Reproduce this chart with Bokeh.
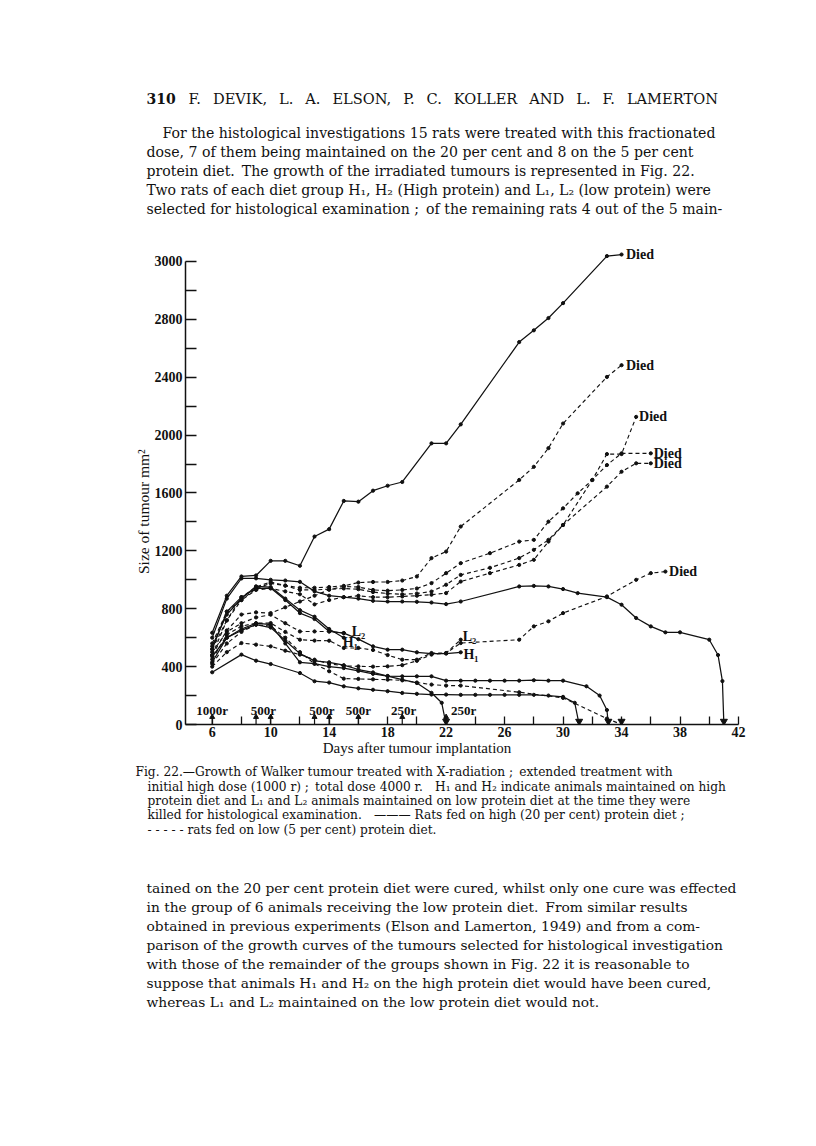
from bokeh.plotting import figure
from bokeh.layouts import column
from bokeh.models import Range1d, FixedTicker
from bokeh.core.properties import value
from bokeh.embed import file_html
from bokeh.resources import INLINE

# ---------------- data ----------------
# solid lines: rats on high (20 %) protein diet
a_days = [6, 7, 8, 9, 10, 11, 12, 13, 14, 15, 16, 17, 18, 19, 21, 22, 23, 27, 28, 29, 30, 33, 34]
a_vals = [634, 890, 1023, 1030, 1131, 1131, 1097, 1299, 1350, 1545, 1540, 1616, 1650, 1676, 1943, 1943, 2074, 2643, 2724, 2809, 2912, 3237, 3248]

s2_days = [6, 7, 8, 9, 10, 11, 12, 13, 14, 15, 16, 17, 18, 19, 20, 21, 22, 23, 27, 28, 29, 30, 31, 33, 34, 35, 36, 37, 38, 40, 40.6, 40.9, 41]
s2_vals = [600, 870, 1009, 1010, 1000, 995, 986, 920, 890, 880, 870, 855, 850, 850, 848, 843, 832, 850, 954, 958, 954, 936, 908, 880, 828, 736, 678, 637, 637, 586, 480, 300, 0]

s3_days = [6, 7, 8, 9, 10, 11, 12, 13, 14, 15, 16, 17, 18, 19, 20, 21, 22, 23]
s3_vals = [520, 780, 880, 940, 943, 860, 770, 729, 643, 632, 590, 540, 517, 517, 499, 490, 490, 499]

s4_days = [6, 7, 8, 9, 10, 11, 12, 13, 14, 15]
s4_vals = [540, 760, 870, 955, 950, 870, 790, 745, 660, 600]

s5_days = [6, 7, 8, 9, 10, 11, 12, 13, 14, 15, 16, 17, 18, 19, 20, 21, 21.7, 22]
s5_vals = [470, 600, 650, 690, 670, 580, 490, 440, 430, 410, 380, 360, 335, 310, 287, 219, 150, 0]

s6_days = [6, 7, 8, 9, 10, 11, 12, 13, 14, 15, 16, 17, 18, 19, 20, 21, 22, 23, 24, 25, 26, 27, 28, 29, 30, 31.6, 32.5, 33, 33.1]
s6_vals = [430, 600, 660, 700, 690, 560, 430, 420, 400, 390, 370, 350, 335, 333, 333, 333, 303, 303, 303, 303, 303, 303, 306, 303, 303, 264, 200, 100, 0]

s7_days = [6, 8, 9, 10, 12, 13, 14, 15, 16, 17, 18, 19, 20, 21, 22, 23, 24, 25, 26, 27, 28, 29, 30, 30.8, 31.1]
s7_vals = [361, 483, 441, 418, 356, 299, 290, 264, 250, 240, 230, 218, 212, 207, 207, 205, 205, 205, 205, 205, 205, 200, 191, 150, 0]

# dashed lines: rats on low (5 %) protein diet
b_days = [6, 7, 8, 9, 10, 11, 12, 13, 14, 15, 16, 17, 18, 19, 20, 21, 22, 23, 27, 28, 29, 30, 33, 34]
b_vals = [520, 720, 860, 940, 975, 960, 945, 945, 950, 958, 981, 985, 985, 995, 1023, 1150, 1195, 1368, 1690, 1781, 1910, 2080, 2402, 2483]

c_days = [6, 7, 8, 9, 10, 11, 12, 13, 14, 15, 16, 17, 18, 19, 20, 21, 22, 23, 25, 27, 28, 29, 30, 31, 32, 33, 34, 35]
c_vals = [480, 650, 760, 775, 770, 810, 850, 890, 931, 954, 950, 930, 925, 930, 940, 977, 1046, 1115, 1184, 1264, 1276, 1402, 1494, 1598, 1690, 1869, 1869, 2126]

d3_days = [6, 7, 8, 9, 10, 11, 12, 13, 14, 15, 16, 17, 18, 19, 20, 21, 22, 23, 25, 27, 28, 29, 30, 32, 33, 34, 36]
d3_vals = [480, 720, 880, 950, 985, 960, 930, 930, 935, 940, 935, 915, 905, 900, 905, 919, 966, 1034, 1083, 1150, 1207, 1276, 1379, 1690, 1793, 1874, 1874]

d4_days = [6, 7, 8, 9, 10, 11, 12, 13, 14, 15, 16, 17, 18, 19, 20, 21, 22, 23, 25, 27, 28, 29, 30, 33, 34, 35, 36]
d4_vals = [560, 780, 860, 930, 940, 920, 900, 830, 860, 880, 890, 880, 880, 885, 890, 897, 908, 988, 1046, 1103, 1138, 1264, 1379, 1644, 1747, 1805, 1805]

d5_days = [6, 7, 8, 9, 10, 11, 12, 13, 14, 15, 16, 17, 18, 19, 20, 21, 22, 23, 27, 28, 29, 30, 33, 35, 36, 37]
d5_vals = [400, 500, 563, 552, 540, 510, 483, 448, 420, 405, 402, 400, 402, 410, 440, 483, 494, 563, 586, 678, 713, 770, 885, 1000, 1046, 1057]

d6_days = [6, 7, 8, 9, 10, 11, 12, 13, 14, 15, 16, 17, 18, 19, 20, 21, 22, 23]
d6_vals = [450, 620, 680, 700, 701, 640, 586, 580, 579, 529, 529, 515, 480, 448, 448, 494, 494, 586]

d7_days = [6, 7, 8, 9, 10, 11, 12, 13, 14, 15, 16, 17, 18, 19, 20, 21, 22, 23, 27, 30, 33, 34]
d7_vals = [420, 560, 640, 690, 680, 600, 500, 420, 368, 317, 315, 312, 310, 305, 290, 276, 269, 269, 223, 184, 41, 0]

d8_days = [6, 7, 8, 9, 10, 11, 12, 13, 14, 15]
d8_vals = [500, 640, 700, 740, 759, 700, 643, 643, 643, 632]

solid_series = [(a_days, a_vals), (s2_days, s2_vals), (s3_days, s3_vals), (s4_days, s4_vals),
                (s5_days, s5_vals), (s6_days, s6_vals), (s7_days, s7_vals)]
dashed_series = [(b_days, b_vals), (c_days, c_vals), (d3_days, d3_vals), (d4_days, d4_vals),
                 (d5_days, d5_vals), (d6_days, d6_vals), (d7_days, d7_vals), (d8_days, d8_vals)]

died_x = [34.3, 34.3, 35.2, 36.2, 36.2, 37.25]
died_y = [3248, 2483, 2126, 1874, 1805, 1057]

tag_text = ["L\u2082", "H\u2081", "L\u2082", "H\u2081"]
tag_x = [16.0, 15.45, 23.6, 23.7]
tag_y = [643, 565, 609, 483]

end_days = [41, 22, 33.1, 31.1, 34]          # tumours regressed to zero

dose_days = [6, 9, 10, 13, 14, 16, 19, 22]
dose_text = ["1000r", "500r", "500r", "500r", "250r", "250r"]
dose_text_x = [6, 9.5, 13.5, 16, 19.1, 23.2]

x_ticks = [6, 10, 14, 18, 22, 26, 30, 34, 38, 42]
x_minor = [8, 12, 16, 20, 24, 28, 32, 36, 40]
y_ticks = [0, 400, 800, 1200, 1600, 2000, 2400, 2800, 3200]
y_tick_labels = ["0", "400", "800", "1200", "1600", "2000", "2400", "2800", "3000"]
y_minor = [200, 600, 1000, 1400, 1800, 2200, 2600, 3000]

x_title = "Days after tumour implantation"
y_title = "Size of tumour mm\u00b2"

header_num = "310"
header_auth = "\u2002 ".join(["F.", "DEVIK,", "L.", "A.", "ELSON,", "P.", "C.", "KOLLER", "AND", "L.", "F.", "LAMERTON"])
para1 = [
    "For the histological investigations 15 rats were treated with this fractionated",
    "dose, 7 of them being maintained on the 20 per cent and 8 on the 5 per cent",
    "protein diet.\u2002The growth of the irradiated tumours is represented in Fig. 22.",
    "Two rats of each diet group H\u2081, H\u2082 (High protein) and L\u2081, L\u2082 (low protein) were",
    "selected for histological examination ;\u2002of the remaining rats 4 out of the 5 main-",
]
caption = [
    "Fig. 22.\u2014Growth of Walker tumour treated with X-radiation ;\u2002extended treatment with",
    "initial high dose (1000 r) ;\u2002total dose 4000 r.\u2002\u2002H\u2081 and H\u2082 indicate animals maintained on high",
    "protein diet and L\u2081 and L\u2082 animals maintained on low protein diet at the time they were",
    "killed for histological examination.\u2002\u2002\u2014\u2014\u2014 Rats fed on high (20 per cent) protein diet ;",
    "- - - - - rats fed on low (5 per cent) protein diet.",
]
para2 = [
    "tained on the 20 per cent protein diet were cured, whilst only one cure was effected",
    "in the group of 6 animals receiving the low protein diet.\u2002From similar results",
    "obtained in previous experiments (Elson and Lamerton, 1949) and from a com-",
    "parison of the growth curves of the tumours selected for histological investigation",
    "with those of the remainder of the groups shown in Fig. 22 it is reasonable to",
    "suppose that animals H\u2081 and H\u2082 on the high protein diet would have been cured,",
    "whereas L\u2081 and L\u2082 maintained on the low protein diet would not.",
]

SERIF = "DejaVu Serif"
TSERIF = "Liberation Serif"
INK = "#111"

# page geometry (page pixels)
W = 810
FRAME_L, FRAME_R = 185, 738

# ---------------- text figures ----------------
def text_fig(y0, y1):
    f = figure(width=W, height=y1 - y0, x_range=Range1d(0, W), y_range=Range1d(y1, y0),
               output_backend="svg", toolbar_location=None, min_border=0, frame_align=False)
    f.axis.visible = False
    f.grid.visible = False
    f.outline_line_color = None
    return f

def add_lines(f, xs, ys, texts, size, font=SERIF, style="normal"):
    f.text(x=xs, y=ys, text=texts, text_font=value(font), text_font_size=size,
           text_font_style=style, text_baseline="middle", text_color=INK)

top = text_fig(0, 236)
add_lines(top, [146], [98], [header_num], "14px", style="bold")
add_lines(top, [188], [98], [header_auth], "14.6px")
add_lines(top, [162, 146, 146, 146, 146], [132, 151, 170, 189, 208], para1, "14.1px")

# ---------------- chart ----------------
SX = 14.62          # px per day (range setup)
SY = 0.145          # px per mm^2 (range setup)
x_start = 6 - (211.7 - FRAME_L) / SX
y_end = (725 - 244) / SY

p = figure(width=W, height=522, x_range=Range1d(x_start, 42), y_range=Range1d(0, y_end),
           output_backend="svg", toolbar_location=None, frame_align=False,
           min_border_left=FRAME_L, min_border_right=W - FRAME_R, min_border_top=8, min_border_bottom=33)
p.grid.visible = False
p.outline_line_color = None

for d, v in solid_series:
    p.line(d, v, line_color=INK, line_width=1.25)
    p.scatter([x for x, y in zip(d, v) if y > 0], [y for y in v if y > 0], size=3.2, color=INK)
for d, v in dashed_series:
    p.line(d, v, line_color=INK, line_width=1.15, line_dash="4 3")
    p.scatter([x for x, y in zip(d, v) if y > 0], [y for y in v if y > 0], size=3.2, color=INK)

p.scatter(end_days, [22] * len(end_days), marker="inverted_triangle", size=7, color=INK)

# dose arrows
p.segment(x0=dose_days, y0=[0] * len(dose_days), x1=dose_days, y1=[55] * len(dose_days),
          line_color=INK, line_width=1.2)
p.scatter(dose_days, [52] * len(dose_days), marker="triangle", size=5, color=INK)
p.text(x=dose_text_x, y=[97] * len(dose_text), text=dose_text, text_font=value(TSERIF),
       text_font_size="13px", text_font_style="bold", text_align="center", text_baseline="middle",
       text_color=INK)

p.text(x=died_x, y=died_y, text=["Died"] * len(died_x), text_font=value(TSERIF),
       text_font_size="14px", text_font_style="bold", text_baseline="middle", text_color=INK)
p.text(x=tag_x, y=tag_y, text=tag_text, text_font=value(TSERIF), text_font_size="14px",
       text_font_style="bold", text_align="center", text_baseline="middle", text_color=INK)

for ax in (p.xaxis, p.yaxis):
    ax.axis_line_width = 1.5
    ax.axis_line_color = INK
    ax.major_tick_line_color = INK
    ax.minor_tick_line_color = INK
    ax.major_tick_line_width = 1.3
    ax.minor_tick_line_width = 1.3
    ax.major_tick_out = 0
    ax.minor_tick_out = 0
    ax.major_label_text_font = TSERIF
    ax.major_label_text_font_size = "14px"
    ax.major_label_text_font_style = "bold"
    ax.major_label_text_color = INK
    ax.axis_label_text_font = TSERIF
    ax.axis_label_text_font_style = "normal"
    ax.axis_label_text_color = INK

p.xaxis.ticker = FixedTicker(ticks=x_ticks, minor_ticks=x_minor)
p.xaxis.major_tick_in = 8
p.xaxis.minor_tick_in = 8
p.xaxis.major_label_standoff = 2
# trailing em spaces shift the centred title to the left, as in the original
p.xaxis.axis_label = x_title + "\u2003" * 6
p.xaxis.axis_label_standoff = 0
p.xaxis.axis_label_text_font_size = "15px"

p.yaxis.ticker = FixedTicker(ticks=y_ticks, minor_ticks=y_minor)
p.yaxis.major_label_overrides = dict(zip(y_ticks, y_tick_labels))
p.yaxis.bounds = (0, 3200)
p.yaxis.major_tick_in = 11
p.yaxis.minor_tick_in = 11
p.yaxis.major_label_standoff = 3
p.yaxis.axis_label = y_title + "\u2003\u2003\u2003\u2002"
p.yaxis.axis_label_standoff = 0
p.yaxis.axis_label_text_font_size = "15.5px"

# ---------------- bottom text ----------------
bot = text_fig(758, 1140)
add_lines(bot, [135, 147, 147, 147, 147], [771, 786, 800, 814, 829], caption, "12.2px")
add_lines(bot, [146] * len(para2), [887, 906, 925, 944, 963, 982, 1001], para2, "13.8px")

layout = column(top, p, bot, spacing=0)
open("out.html", "w").write(file_html(layout, INLINE))
